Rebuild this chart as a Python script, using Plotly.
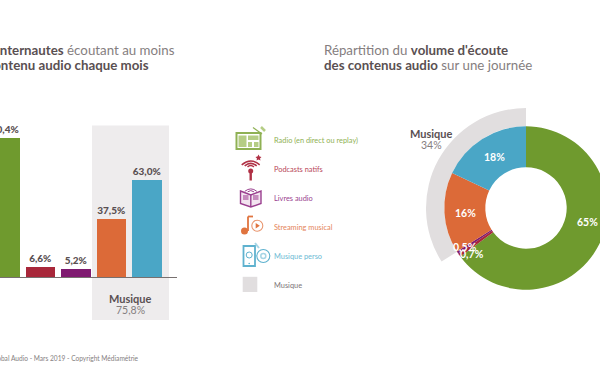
import plotly.graph_objects as go

W, H = 640, 372
FONT = "Lato"
TXT = "#5a5052"
SOFT = "#857e80"
GRAY = "#e1dedf"
BOX = "#eeeced"

bar_categories = ["Radio", "Podcasts natifs", "Livres audio", "Streaming musical", "Musique perso"]
bar_values = [90.4, 6.6, 5.2, 37.5, 63.0]
bar_labels = ["90,4%", "6,6%", "5,2%", "37,5%", "63,0%"]
bar_colors = ["#6f9a2e", "#a8273a", "#7f1a70", "#dc6a38", "#4aa6c6"]

pie_labels = ["Radio", "Podcasts natifs", "Livres audio", "Streaming musical", "Musique perso"]
pie_values = [65, 0.7, 0.5, 16, 18]
pie_texts = ["65%", "0,7%", "0,5%", "16%", "18%"]
pie_text_px = [(587, 222), (472, 254), (465, 247), (465, 212.5), (494.5, 157)]
music_share = [66, 34]

legend_names = ["Radio (en direct ou replay)", "Podcasts natifs", "Livres audio", "Streaming musical", "Musique perso", "Musique"]
legend_colors = ["#8fb154", "#b8475a", "#9a3f8f", "#e5855a", "#6dbad4", "#7c7577"]
legend_y = [140, 169.5, 198.5, 227.5, 256.5, 285.5]


def px(x):
    return x / W


def py(y):
    return 1 - y / H


# 35.5 px per category; first category centred at x=4.75 px; 1.547 px per percent, baseline at y=277.5
STEP, X0, PPU, BASE = 35.5, 4.75, 1.547, 277.5
xr = [-X0 / STEP, (W - X0) / STEP]
yr = [-(H - BASE) / PPU, BASE / PPU]

fig = go.Figure()
fig.add_trace(go.Bar(
    x=bar_categories, y=bar_values, marker=dict(color=bar_colors, line_width=0), width=29.5 / 35.5,
    text=bar_labels, textposition="outside", cliponaxis=False, hoverinfo="skip",
    textfont=dict(family=FONT, size=10, color=TXT, weight=900),
))


def domain(cx, cy, r):
    return dict(x=[px(cx - r), px(cx + r)], y=[py(cy + r), py(cy - r)])


fig.add_trace(go.Pie(
    values=music_share, labels=["", "Musique"], sort=False, direction="clockwise", rotation=0,
    hole=81.7 / 100, domain=domain(526, 208, 100), textinfo="none", hoverinfo="skip", showlegend=False,
    marker=dict(colors=["rgba(0,0,0,0)", GRAY], line_width=0),
))
fig.add_trace(go.Pie(
    values=pie_values, labels=pie_labels, sort=False, direction="clockwise", rotation=0,
    hole=40.7 / 81.7, domain=domain(526, 208, 81.7), textinfo="none", hoverinfo="skip", showlegend=False,
    marker=dict(colors=bar_colors, line_width=0),
))

shapes = []
annots = []


def text(x, y, t, size, color=TXT, anchor="left", bold=False):
    annots.append(dict(xref="paper", yref="paper", x=px(x), y=py(y), text=f"<b>{t}</b>" if bold else t,
                       showarrow=False, xanchor=anchor, yanchor="middle",
                       font=dict(family=FONT, size=size, color=color), borderpad=0, borderwidth=0))


def rect(x0, y0, x1, y1, fill=None, line=None, lw=1, layer="above"):
    shapes.append(dict(type="rect", xref="paper", yref="paper", x0=px(x0), x1=px(x1), y0=py(y0), y1=py(y1),
                       fillcolor=fill or "rgba(0,0,0,0)", line=dict(color=line or "rgba(0,0,0,0)", width=lw if line else 0), layer=layer))


def seg(x0, y0, x1, y1, color, lw=1.2, layer="above"):
    shapes.append(dict(type="line", xref="paper", yref="paper", x0=px(x0), x1=px(x1), y0=py(y0), y1=py(y1),
                       line=dict(color=color, width=lw), layer=layer))


def circ(cx, cy, r, fill=None, line=None, lw=1):
    shapes.append(dict(type="circle", xref="paper", yref="paper", x0=px(cx - r), x1=px(cx + r), y0=py(cy + r), y1=py(cy - r),
                       fillcolor=fill or "rgba(0,0,0,0)", line=dict(color=line or "rgba(0,0,0,0)", width=lw if line else 0)))


def poly(pts, fill=None, line=None, lw=1):
    d = "M " + " L ".join(f"{px(a):.5f},{py(b):.5f}" for a, b in pts) + " Z"
    shapes.append(dict(type="path", xref="paper", yref="paper", path=d,
                       fillcolor=fill or "rgba(0,0,0,0)", line=dict(color=line or "rgba(0,0,0,0)", width=lw if line else 0)))


def soft(t):
    return f'<span style="color:{SOFT}">{t}</span>'


# Music backdrop and axis line
rect(92, 125.5, 169, 320, fill=BOX, layer="below")
seg(0, 277.5, 177, 277.5, "#77706f", 1.2)

# Titles
text(175, 50, "<b>d'internautes</b> " + soft("écoutant au moins"), 13.3, anchor="right")
text(148.5, 65, "<b>1 contenu audio chaque mois</b>", 13.3, anchor="right")
text(324, 50, soft("Répartition du") + " <b>volume d'écoute</b>", 13.3)
text(324, 65, "<b>des contenus audio</b> " + soft("sur une journée"), 13.3)

# Music captions
text(130.5, 298, "Musique", 11, anchor="center", bold=True)
text(130.5, 310, "75,8%", 10.5, color=SOFT, anchor="center")
text(431.5, 133, "Musique", 11, anchor="center", bold=True)
text(431.5, 145, "34%", 10.5, color=SOFT, anchor="center")

# Footer
text(139, 358, "Source : Global Audio - Mars 2019 - Copyright Médiamétrie", 6.6, color=SOFT, anchor="right")

# Donut labels
for t, (x, y) in zip(pie_texts, pie_text_px):
    text(x, y, t, 10.5, color="white", anchor="center", bold=True)

# Legend labels
for t, c, y in zip(legend_names, legend_colors, legend_y):
    text(274, y, t, 7.4, color=c)

# Radio icon
G = "#8fb154"
rect(236.5, 133, 260.5, 149, line=G, lw=2, fill="white")
rect(238.5, 135.5, 246.5, 147, fill="#b5cd85")
rect(248, 135.5, 258.5, 140, fill="#b5cd85")
rect(248, 142, 252, 147, fill="#b5cd85")
rect(254, 142, 258.5, 147, fill="#b5cd85")
seg(253, 127.5, 262, 134, G, 1.2)
seg(261, 127, 265, 131, "#b5cd85", 2.5)

# Podcast icon
R = "#b03045"
for r, lw in [(9, 1.5), (6, 1.5), (3.2, 1.5)]:
    shapes.append(dict(type="path", xref="paper", yref="paper",
                       path=f"M {px(250.7 - r):.5f},{py(168 - r * .35):.5f} Q {px(250.7):.5f},{py(168 - r * 1.2):.5f} {px(250.7 + r):.5f},{py(168 - r * .35):.5f}",
                       line=dict(color=R, width=lw), fillcolor="rgba(0,0,0,0)"))
circ(250.7, 171, 2.5, fill=R)
seg(250.7, 172, 250.7, 180.5, R, 2.4)
poly([(258.5, 154.5), (259.5, 156.5), (261.5, 157), (260, 158.5), (260.5, 160.5), (258.5, 159.5), (256.5, 160.5), (257, 158.5), (255.5, 157), (257.5, 156.5)], fill=R)

# Book icon
B = "#9a3f8f"
poly([(240.5, 191), (250.8, 195), (261, 191), (261, 203.5), (250.8, 207), (240.5, 203.5)], fill="#f3e4f0", line=B, lw=1.4)
seg(250.8, 195, 250.8, 207, B, 1.4)
rect(243, 195, 248.5, 200, fill="#c58abd")
rect(253, 195, 258.5, 200, fill="#c58abd")
for r in (6, 3.2):
    shapes.append(dict(type="path", xref="paper", yref="paper",
                       path=f"M {px(250.8 - r):.5f},{py(192.5 - r * .2):.5f} Q {px(250.8):.5f},{py(192.5 - r):.5f} {px(250.8 + r):.5f},{py(192.5 - r * .2):.5f}",
                       line=dict(color=B, width=1), fillcolor="rgba(0,0,0,0)"))

# Streaming icon
O = "#e0743f"
circ(244.5, 231, 3.5, fill=O)
seg(248, 231, 248, 216.5, O, 1.8)
seg(248, 216.5, 253, 216.5, O, 1.8)
circ(257.3, 225.7, 5.5, line="#e9966f", lw=1.1)
poly([(255.7, 223), (259.8, 225.7), (255.7, 228.4)], fill=O)

# Personal music icon
C = "#5fb2cf"
shapes.append(dict(type="rect", xref="paper", yref="paper", x0=px(243.5), x1=px(255), y0=py(266), y1=py(246),
                   fillcolor="white", line=dict(color=C, width=1.8)))
circ(249.2, 255, 3, line=C, lw=1)
circ(249.2, 263.5, 0.8, fill=C)
seg(255, 243, 259, 248, "#a6d5e5", 2)
circ(263.3, 256, 6.5, line=C, lw=1.1)
circ(263.3, 256, 2.5, line="#a6d5e5", lw=1.5)

# Music swatch
rect(242.7, 276.8, 257.3, 292, fill=GRAY)

fig.update_layout(
    width=W, height=H, margin=dict(l=0, r=0, t=0, b=0, pad=0), autosize=False,
    paper_bgcolor="white", plot_bgcolor="rgba(0,0,0,0)", showlegend=False, bargap=0,
    xaxis=dict(range=xr, visible=False, fixedrange=True, domain=[0, 1], categoryorder="array", categoryarray=bar_categories),
    yaxis=dict(range=yr, visible=False, fixedrange=True, domain=[0, 1]),
    shapes=shapes, annotations=annots, font=dict(family=FONT),
)
fig.write_html(
    "out.html", config={"displayModeBar": False, "staticPlot": True},
    post_script="document.documentElement.style.overflow='hidden';document.body.style.margin='0';document.body.style.overflow='hidden';",
)
